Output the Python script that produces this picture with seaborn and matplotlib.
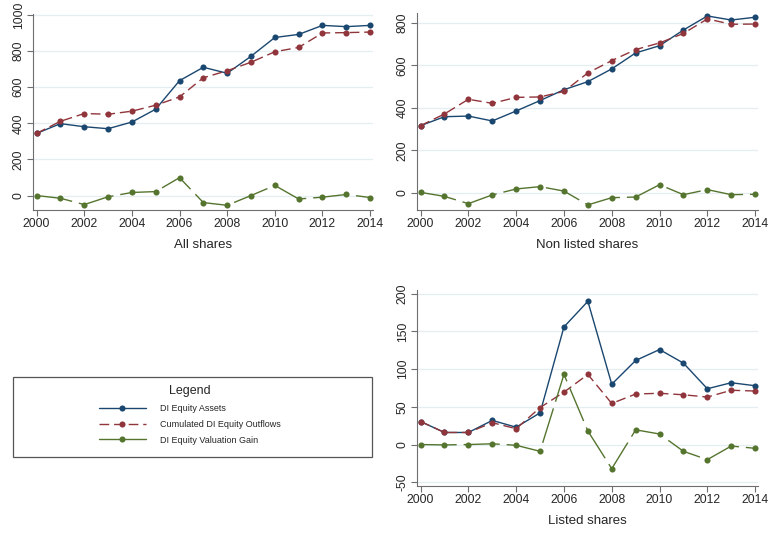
import matplotlib
matplotlib.use("Agg")
import matplotlib.pyplot as plt
from matplotlib.patches import Rectangle
import numpy as np
import pandas as pd
import seaborn as sns

# Years
years = list(range(2000, 2015))

# All shares
all_assets = [344, 398, 381, 370, 407, 478, 636, 710, 677, 771, 875, 892, 942, 935, 942]
all_outflows = [344, 411, 454, 450, 467, 500, 546, 652, 691, 738, 796, 820, 900, 902, 905]
all_gain = [0, -15, -50, -7, 17, 22, 99, -39, -54, 0, 56, -19, -9, 6, -11]

# Non listed shares
nl_assets = [317, 359, 362, 339, 386, 435, 486, 524, 584, 659, 693, 767, 833, 814, 827]
nl_outflows = [317, 372, 441, 422, 450, 452, 478, 565, 623, 675, 706, 751, 819, 794, 795]
nl_gain = [3, -16, -50, -9, 19, 30, 9, -56, -22, -19, 39, -8, 16, -8, -6]

# Listed shares
ls_assets = [30.5, 16, 16, 32, 23, 42, 156, 190, 80, 111.5, 126, 108, 74, 82, 78]
ls_outflows = [30.5, 16, 16, 29, 21, 49, 69.5, 93, 54.5, 67, 68, 66, 63, 72, 71]
ls_gain = [0, -0.5, 0, 1, -1, -9, 93, 18, -32, 19.5, 14, -9, -20, -2, -5]

series_names = ["DI Equity Assets", "Cumulated DI Equity Outflows", "DI Equity Valuation Gain"]
panel_titles = ["All shares", "Non listed shares", "Listed shares"]
xticks = list(range(2000, 2015, 2))

sns.set_style("white")
plt.rcParams["font.family"] = ["Liberation Sans", "DejaVu Sans"]

NAVY = "#1a476f"
MAROON = "#90353b"
GREEN = "#55752f"
GRID = "#e4eef0"
SPINE = "#6e6e6e"

styles = [
    dict(color=NAVY, linestyle="-"),
    dict(color=MAROON, linestyle=(0, (7, 3.5))),
    dict(color=GREEN, linestyle=(0, (26, 5))),
]

W, H = 770, 535
fig = plt.figure(figsize=(W / 100, H / 100), dpi=100)


def add_px_axes(left, top, right, bottom):
    return fig.add_axes([left / W, 1 - bottom / H, (right - left) / W, (bottom - top) / H])


def draw_panel(ax, data, title, ylim, yticks):
    for vals, name, st in zip(data, series_names, styles):
        df = pd.DataFrame({"year": years, "value": vals})
        sns.lineplot(data=df, x="year", y="value", ax=ax, label=name,
                     marker="o", markersize=4.4, markeredgewidth=0,
                     linewidth=1.0, legend=False, **st)
    ax.set_xlim(1999.85, 2014.12)
    ax.set_ylim(*ylim)
    ax.set_xticks(xticks)
    ax.set_yticks(yticks)
    ax.set_yticklabels([str(t) for t in yticks], rotation=90, va="center")
    ax.tick_params(axis="both", labelsize=8.7, length=4, width=0.8,
                   color=SPINE, direction="out", pad=2, left=True, bottom=True)
    ax.grid(axis="y", color=GRID, linewidth=0.9)
    ax.grid(axis="x", visible=False)
    for s in ["top", "right"]:
        ax.spines[s].set_visible(False)
    for s in ["left", "bottom"]:
        ax.spines[s].set_color(SPINE)
        ax.spines[s].set_linewidth(0.8)
    ax.set_xlabel(title, fontsize=9.5, labelpad=6)
    ax.set_ylabel("")


ax1 = add_px_axes(33, 14, 373, 210)
draw_panel(ax1, [all_assets, all_outflows, all_gain], panel_titles[0],
           (-80, 1005), [0, 200, 400, 600, 800, 1000])

ax2 = add_px_axes(417, 13, 758, 210)
draw_panel(ax2, [nl_assets, nl_outflows, nl_gain], panel_titles[1],
           (-80, 847), [0, 200, 400, 600, 800])

ax3 = add_px_axes(417, 290, 758, 486)
draw_panel(ax3, [ls_assets, ls_outflows, ls_gain], panel_titles[2],
           (-55, 205), [-50, 0, 50, 100, 150, 200])

# Legend box in the empty lower-left cell
box = Rectangle((13 / W, 1 - 457 / H), (372 - 13) / W, (457 - 377) / H,
                transform=fig.transFigure, facecolor="white",
                edgecolor="#555555", linewidth=0.9)
fig.patches.append(box)

handles, labels = ax1.get_legend_handles_labels()
leg = fig.legend(handles, labels, title="Legend", loc="upper center",
                 bbox_to_anchor=(190 / W, 1 - 379 / H), frameon=False,
                 fontsize=6.5, title_fontsize=9, handlelength=5.2,
                 labelspacing=0.75, handletextpad=1.6, borderpad=0.2)
# the long-dash key is shorter than one dash, so show it as a solid stroke
leg.legend_handles[2].set_linestyle("-")

fig.savefig("out.png", dpi=100, facecolor="white")
